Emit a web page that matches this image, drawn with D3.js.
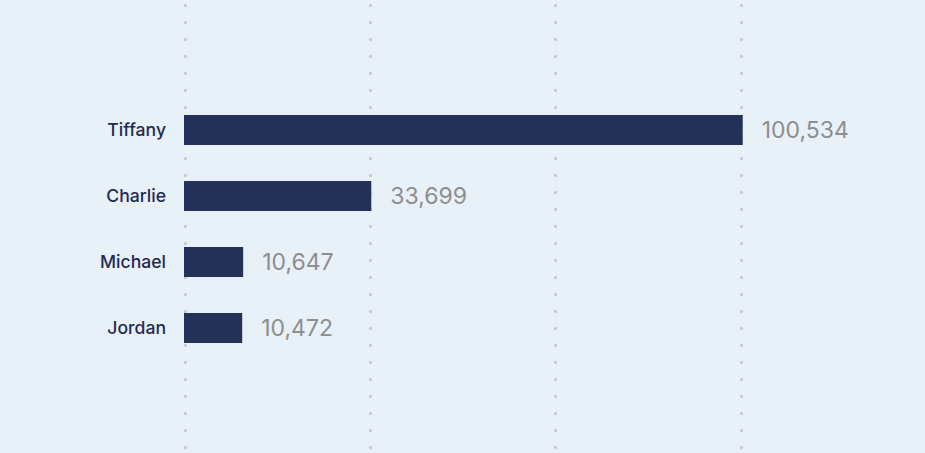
<!DOCTYPE html>
<html><head><meta charset="utf-8">
<script src="https://cdn.jsdelivr.net/npm/d3@7"></script>
<style>
html,body{margin:0;padding:0;background:#e8f0f8;}
svg{display:block;}
</style></head>
<body>
<svg id="chart" width="925" height="453"></svg>
<script>
const categories = ["Tiffany", "Charlie", "Michael", "Jordan"];
const values = [100534, 33699, 10647, 10472];
const gridTicks = [0, 33333, 66667, 100000];

const W = 925, H = 453;
const svg = d3.select("#chart");
svg.append("rect").attr("width", W).attr("height", H).attr("fill", "#e8f0f8");

const x = d3.scaleLinear().domain([0, 100534]).range([184, 742.7]);
const y = d3.scaleBand().domain(categories).range([97, 361])
  .paddingInner(36/66).paddingOuter(18/66);

svg.append("g").selectAll("line").data(gridTicks).join("line")
  .attr("x1", d => Math.round(x(d)) + 1.5).attr("x2", d => Math.round(x(d)) + 1.5)
  .attr("y1", 4).attr("y2", H)
  .attr("stroke", "#c6cdd8").attr("stroke-width", 3)
  .attr("stroke-dasharray", "3,14");

const data = categories.map((c, i) => ({c, v: values[i]}));

svg.append("g").selectAll("rect").data(data).join("rect")
  .attr("x", x(0)).attr("y", d => y(d.c))
  .attr("width", d => x(d.v) - x(0)).attr("height", y.bandwidth())
  .attr("fill", "#243159");

svg.append("g").selectAll("text").data(data).join("text")
  .attr("x", 166).attr("y", d => y(d.c) + y.bandwidth()/2)
  .attr("dy", "0.36em").attr("text-anchor", "end")
  .attr("font-family", "Inter, sans-serif").attr("font-size", 17.6).attr("font-weight", 500)
  .attr("fill", "#1f2a52").text(d => d.c);

const fmt = d3.format(",");
svg.append("g").selectAll("text").data(data).join("text")
  .attr("x", d => x(d.v) + 19).attr("y", d => y(d.c) + y.bandwidth()/2)
  .attr("dy", "0.36em")
  .attr("font-family", "Inter, sans-serif").attr("font-size", 23)
  .attr("fill", "#8e8e8e").text(d => fmt(d.v));
</script>
</body></html>
